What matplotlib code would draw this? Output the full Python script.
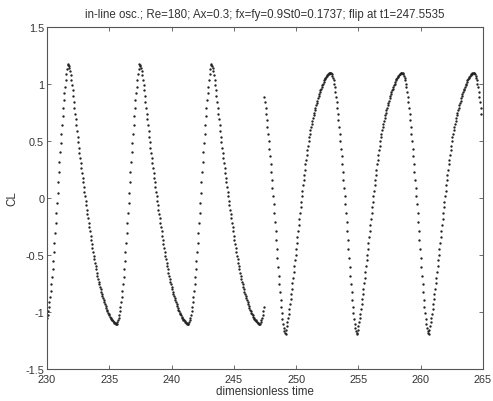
import numpy as np
import matplotlib
matplotlib.use("Agg")
import matplotlib.pyplot as plt

# ---- data ----
dt = 0.05
# one period (115 samples, dt = 0.05) of CL starting at a peak, before the flip
cl_cycle_before = [
    1.175, 1.170, 1.158, 1.138, 1.110, 1.076, 1.036, 0.991, 0.943, 0.893,
    0.842, 0.791, 0.740, 0.689, 0.638, 0.588, 0.538, 0.489, 0.441, 0.394,
    0.349, 0.305, 0.262, 0.220, 0.178, 0.137, 0.096, 0.056, 0.016, -0.024,
    -0.063, -0.102, -0.141, -0.179, -0.217, -0.255, -0.293, -0.330, -0.367, -0.403,
    -0.438, -0.472, -0.505, -0.537, -0.568, -0.598, -0.627, -0.655, -0.682, -0.708,
    -0.733, -0.757, -0.780, -0.802, -0.823, -0.843, -0.862, -0.880, -0.897, -0.913,
    -0.932, -0.949, -0.965, -0.980, -0.994, -1.007, -1.019, -1.030, -1.040, -1.050,
    -1.059, -1.067, -1.074, -1.081, -1.087, -1.093, -1.098, -1.103, -1.108,
    -1.102, -1.090, -1.073, -1.051, -1.024, -0.992, -0.955, -0.913, -0.866, -0.813,
    -0.755, -0.692, -0.624, -0.551, -0.474, -0.393, -0.309, -0.222, -0.133, -0.043,
    0.047, 0.137, 0.226, 0.314, 0.400, 0.484, 0.565, 0.643, 0.718, 0.789,
    0.856, 0.918, 0.978, 1.033, 1.085, 1.135,
]
# one period of CL starting at a peak, after the flip
cl_cycle_after = [
    1.096, 1.093, 1.085, 1.072, 1.054, 1.031, 1.003, 0.970, 0.932, 0.889,
    0.842, 0.791, 0.737, 0.680, 0.621, 0.560, 0.497, 0.432, 0.366, 0.299,
    0.231, 0.162, 0.092, 0.020, -0.054, -0.130, -0.210, -0.290, -0.370, -0.450,
    -0.530, -0.608, -0.684, -0.757, -0.827, -0.893, -0.955, -1.012, -1.063, -1.107,
    -1.143, -1.170, -1.186, -1.192,
    -1.160, -1.127, -1.092, -1.055, -1.016, -0.975, -0.933, -0.889, -0.844, -0.797,
    -0.749, -0.700, -0.650, -0.599, -0.548, -0.496, -0.444, -0.392, -0.340, -0.288,
    -0.236, -0.184, -0.133, -0.083, -0.033, 0.016, 0.064, 0.112, 0.159, 0.205,
    0.250, 0.294, 0.337, 0.379, 0.420, 0.459, 0.496, 0.531, 0.564, 0.595,
    0.624, 0.651, 0.677, 0.702, 0.726, 0.749, 0.771, 0.793, 0.814, 0.834,
    0.854, 0.873, 0.891, 0.909, 0.926, 0.943, 0.959, 0.975, 0.990, 1.004,
    1.018, 1.031, 1.043, 1.054, 1.064, 1.073, 1.080, 1.086, 1.091, 1.094, 1.096,
]
seg_t_start = [230.00, 247.45]   # first sample time of each segment
seg_t_end = [247.40, 264.85]     # last sample time of each segment
seg_t_peak = [231.65, 252.75]    # time of a peak (cycle index 0) in each segment

x_ticks = [230, 235, 240, 245, 250, 255, 260, 265]
y_ticks = [-1.5, -1, -0.5, 0, 0.5, 1, 1.5]
y_tick_labels = ["-1.5", "-1", "-0.5", "0", "0.5", "1", "1.5"]
title = "in-line osc.; Re=180; Ax=0.3; fx=fy=0.9St0=0.1737; flip at t1=247.5535"

plt.rcParams["font.family"] = ["Liberation Sans", "DejaVu Sans"]

fig = plt.figure(figsize=(4.93, 4.02), dpi=100)
ax = fig.add_axes([47 / 493, 32 / 402, 436 / 493, 342 / 402])

for cyc, t0, t1, tp in zip([cl_cycle_before, cl_cycle_after], seg_t_start, seg_t_end, seg_t_peak):
    cyc = np.asarray(cyc)
    n = int(round((t1 - t0) / dt)) + 1
    t = t0 + dt * np.arange(n)
    k = np.round((t - tp) / dt).astype(int) % len(cyc)
    ax.plot(t, cyc[k], linestyle="none", marker="o", markersize=1.7,
            markeredgewidth=0, color="#222222")

ax.set_xlim(230, 265)
ax.set_ylim(-1.5, 1.5)
ax.set_xticks(x_ticks)
ax.set_yticks(y_ticks)
ax.set_yticklabels(y_tick_labels)
ax.tick_params(direction="in", top=True, right=True, length=3, width=0.6,
               labelsize=7.8, colors="#555555", labelcolor="#333333")
ax.tick_params(axis="x", pad=3.5)
ax.tick_params(axis="y", pad=2)
for s in ax.spines.values():
    s.set_color("#555555")
    s.set_linewidth(0.8)

ax.set_title(title, fontsize=8.3, color="#333333", pad=7)
ax.set_xlabel("dimensionless time", fontsize=8.3, color="#333333", labelpad=1)
ax.set_ylabel("CL", fontsize=8.3, color="#333333", labelpad=5)

fig.savefig("out.png", dpi=100, facecolor="white")
